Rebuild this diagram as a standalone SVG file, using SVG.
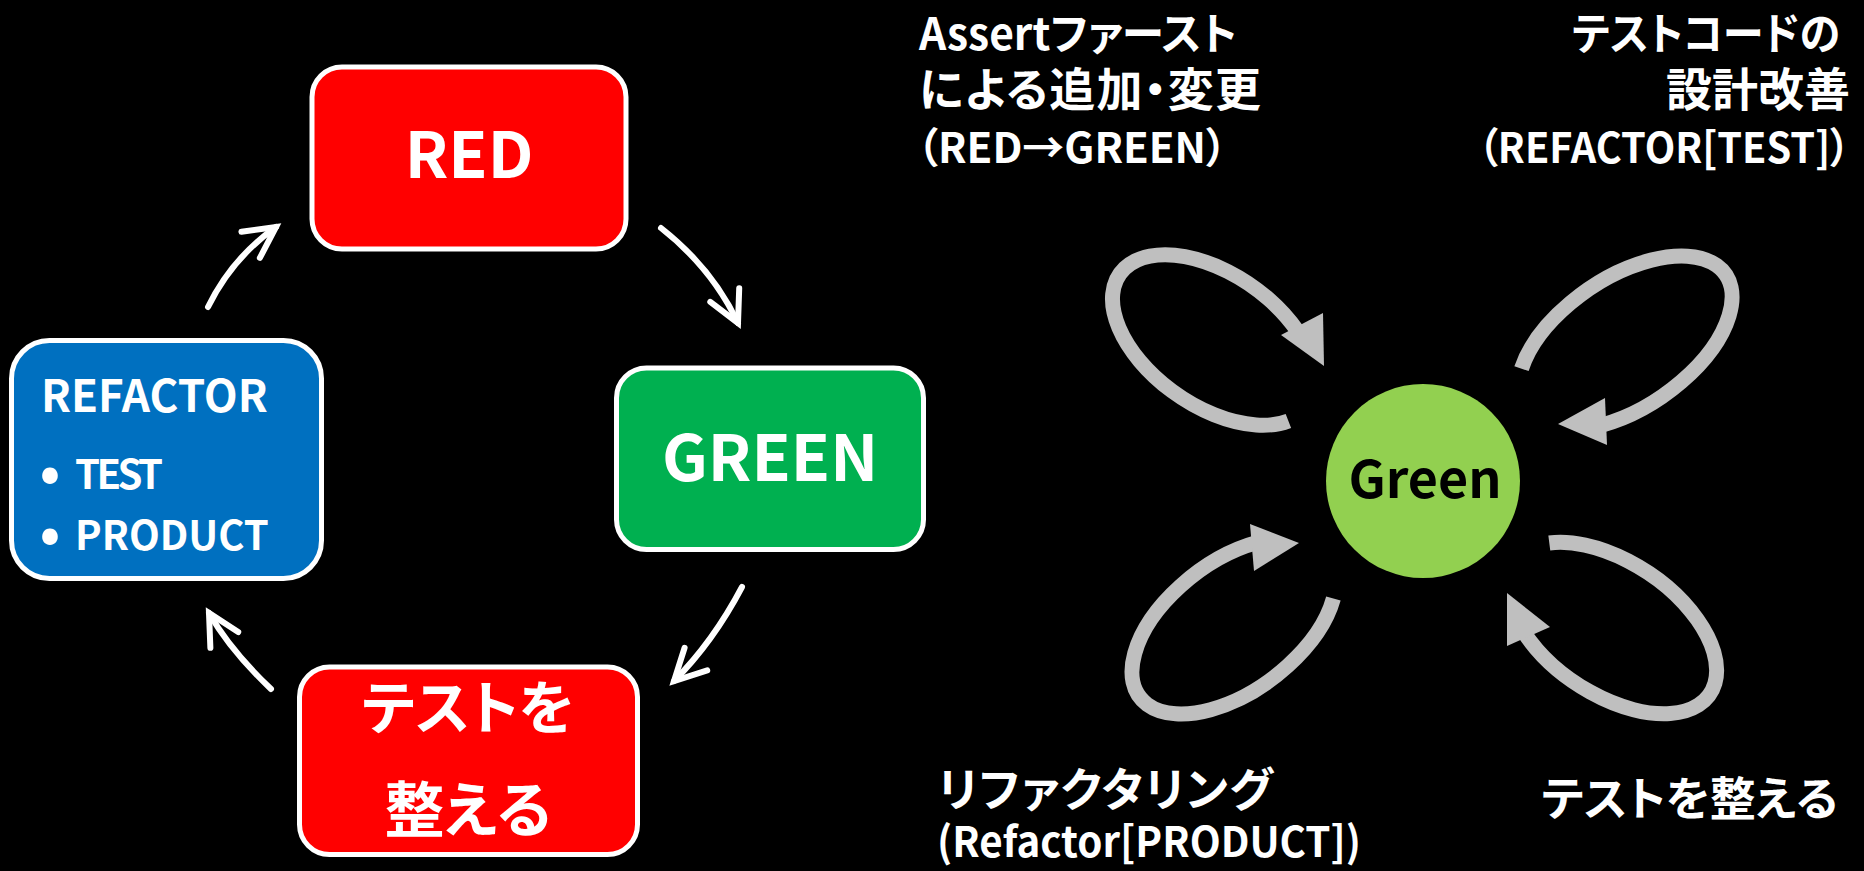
<svg xmlns="http://www.w3.org/2000/svg" width="1864" height="871" viewBox="0 0 1864 871">
  <style>
    .txt { font-family: "Noto Sans CJK JP", "Noto Sans", sans-serif; font-weight: 700; fill: #ffffff; }
    .jp { font-feature-settings: "palt"; }
    .cap { font-size: 44px; }
    .latin { font-size: 42px; }
    .box { stroke: #ffffff; stroke-width: 5; }
    .flow { fill: none; stroke: #ffffff; stroke-width: 6; stroke-linecap: round; }
    .loop { fill: none; stroke: #BFBFBF; stroke-width: 15; }
    .loop-head { fill: #BFBFBF; }
  </style>
  <defs>
    <marker id="chevron" markerUnits="userSpaceOnUse" markerWidth="80" markerHeight="80"
            viewBox="-40 -40 80 80" refX="0" refY="0" orient="auto" overflow="visible">
      <path d="M-31,-16 L0,0 L-31,16" fill="none" stroke="#ffffff" stroke-width="6"
            stroke-linecap="round" stroke-linejoin="miter"/>
    </marker>
  </defs>

  <rect width="1864" height="871" fill="#000000"/>

  <!-- TDD cycle on the left -->
  <g id="node-red">
    <rect class="box" x="312" y="67" width="314" height="182" rx="30" fill="#FF0000"/>
    <text class="txt" x="469" y="178" font-size="64" text-anchor="middle">RED</text>
  </g>

  <g id="node-green">
    <rect class="box" x="616.5" y="368" width="307" height="181.5" rx="30" fill="#00B050"/>
    <text class="txt" x="770" y="481" font-size="64" text-anchor="middle">GREEN</text>
  </g>

  <g id="node-tidy-tests">
    <rect class="box" x="299.5" y="667" width="338" height="187.5" rx="30" fill="#FF0000"/>
    <text class="txt jp" x="468" y="729" font-size="58" text-anchor="middle">テストを</text>
    <text class="txt jp" x="468" y="832" font-size="60" text-anchor="middle">整える</text>
  </g>

  <g id="node-refactor">
    <rect class="box" x="11.5" y="340.5" width="310" height="238" rx="38" fill="#0070C0"/>
    <text class="txt" x="41" y="412" font-size="44">REFACTOR</text>
    <text class="txt" x="50" y="492" font-size="54" text-anchor="middle">•</text>
    <text class="txt" x="75" y="489" font-size="40" textLength="88">TEST</text>
    <text class="txt" x="50" y="553" font-size="54" text-anchor="middle">•</text>
    <text class="txt" x="75" y="550" font-size="40">PRODUCT</text>
  </g>

  <!-- Green state with its four self-loops on the right -->
  <g id="node-green-state">
    <circle cx="1423" cy="481" r="97" fill="#92D050"/>
    <text x="1425" y="498" font-size="52" text-anchor="middle" font-family="'Noto Sans CJK JP', 'Noto Sans', sans-serif" font-weight="700" fill="#000000">Green</text>
  </g>

  <g id="connectors">
    <!-- cycle arrows -->
    <path class="flow" d="M208 307 Q232 258 276 227" marker-end="url(#chevron)"/>
    <path class="flow" d="M661 228 Q712 268 738 323" marker-end="url(#chevron)"/>
    <path class="flow" d="M742 587 Q713 642 674 681" marker-end="url(#chevron)"/>
    <path class="flow" d="M271 689 Q230 650 209 613" marker-end="url(#chevron)"/>

    <!-- self-loops around Green -->
    <path class="loop" d="M1288.4 420.9 A115 66 35 1 1 1297.1 330.6"/>
    <polygon class="loop-head" points="1323,313 1281,335 1324,366"/>

    <path class="loop" d="M1521.5 368.7 A121.7 65 -34.25 1 1 1600.9 425.4"/>
    <polygon class="loop-head" points="1605,398 1607,445 1558,424"/>

    <path class="loop" d="M1333.4 598.6 A118 65 -37 1 1 1257.7 542.3"/>
    <polygon class="loop-head" points="1250,524 1254,571 1299,543"/>

    <path class="loop" d="M1549.3 543 A118 66 34 1 1 1523.7 632"/>
    <polygon class="loop-head" points="1507,646 1550,627 1507,593"/>
  </g>

  <!-- loop captions -->
  <g id="label-assert-first">
    <text class="txt jp cap" x="919" y="50" textLength="318" lengthAdjust="spacingAndGlyphs">Assertファースト</text>
    <text class="txt jp" x="919" y="106" font-size="46" textLength="342">による追加・変更</text>
    <text class="txt jp latin" x="917" y="163" textLength="310" lengthAdjust="spacingAndGlyphs">（RED→GREEN）</text>
  </g>
  <g id="label-test-design">
    <text class="txt jp cap" x="1840" y="50" text-anchor="end" textLength="268" lengthAdjust="spacingAndGlyphs">テストコードの</text>
    <text class="txt jp" x="1850" y="106" font-size="46" text-anchor="end">設計改善</text>
    <text class="txt jp latin" x="1850" y="163" text-anchor="end" textLength="372" lengthAdjust="spacingAndGlyphs">（REFACTOR[TEST]）</text>
  </g>
  <g id="label-refactoring">
    <text class="txt jp" x="938" y="806" font-size="46" textLength="335">リファクタリング</text>
    <text class="txt jp latin" x="937" y="857" textLength="424" lengthAdjust="spacingAndGlyphs">(Refactor[PRODUCT])</text>
  </g>
  <g id="label-tidy-tests">
    <text class="txt jp" x="1838" y="815" font-size="46" text-anchor="end">テストを整える</text>
  </g>
</svg>
